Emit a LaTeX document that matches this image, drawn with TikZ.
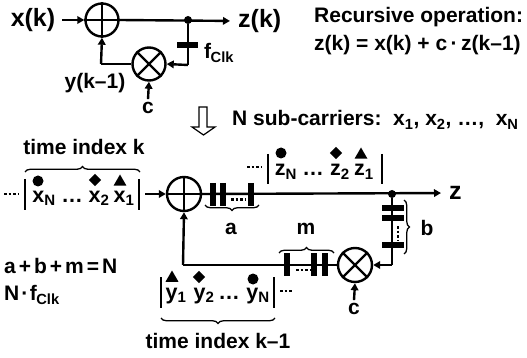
\documentclass[tikz,border=0pt]{standalone}
\usepackage{fontspec}
\setmainfont{Liberation Sans}[BoldFont={Liberation Sans Bold}]
\usetikzlibrary{arrows.meta,decorations.pathreplacing,shapes.geometric}
\tikzset{
 wire/.style={line width=2.4pt,-{Triangle[length=7pt,width=7.5pt]}},
 plain/.style={line width=2.4pt},
 op/.style={circle,draw,line width=2.4pt,minimum size=33pt,inner sep=0pt},
 plate/.style={line width=6.5pt},
 seqbar/.style={line width=1.8pt},
 dotsl/.style={line width=2.8pt,dash pattern=on 2.6pt off 2pt},
 hbrace/.style={line width=1.3pt,decorate,decoration={brace,amplitude=5.5pt}},
 big/.style={font=\bfseries\fontsize{25}{27}\selectfont,inner sep=0pt},
 mid/.style={font=\bfseries\fontsize{21}{23}\selectfont,inner sep=0pt},
 seq/.style={font=\bfseries\fontsize{21.5}{24}\selectfont,inner sep=0pt},
 mk/.style={fill=black,inner sep=0pt},
 mkc/.style={mk,circle,minimum size=11pt},
 mkd/.style={mk,diamond,minimum size=12.5pt},
 mkt/.style={mk,regular polygon,regular polygon sides=3,minimum size=15pt},
 dot/.style={circle,fill=black,inner sep=0pt,minimum size=8pt},
}
\newcommand{\opplus}[1]{\draw[line width=2.4pt] (#1.north) -- (#1.south) (#1.west) -- (#1.east);}
\newcommand{\optimes}[1]{\draw[line width=2.4pt] (#1.45) -- (#1.225) (#1.135) -- (#1.315);}
\begin{document}
\begin{tikzpicture}[x=1pt,y=-1pt]
\useasboundingbox (0,0) rectangle (527,358);
% --- top loop
\node[big,anchor=center] (xk) at (33,20) {x(k)};
\node[op] (p1) at (102,20) {}; \opplus{p1}
\node[dot] (d1) at (188,20) {};
\node[big,anchor=west] (zk) at (238,21) {z(k)};
\node[op] (m1) at (149,64) {}; \optimes{m1}
\coordinate (c1) at (188,65);
\coordinate (c2) at (101,64);
\node[mid,anchor=center] (cc1) at (148,108) {c};
\node[mid,anchor=center] (yk) at (95,83) {y(k–1)};
\draw[wire] (xk.east) ++(7,0) -- (p1.west);
\draw[wire,shorten >=8pt] (p1.east) -- (zk.west);
\draw[plain] (d1) -- (c1);
\draw[wire] (c1) -- (m1.east);
\draw[plain] (m1.west) -- (c2);
\draw[wire] (c2) -- (p1.south);
\draw[wire] (cc1.north) ++(0,-3) -- (m1.south);
\draw[plate,line width=5.5pt] (177,45) -- (198,45);
\node[mid,anchor=west] (fclk) at (204,53) {f\textsubscript{\kern-.5pt Clk}};
% --- text top-right
\node[mid,anchor=west] (rec) at (314,17) {Recursive operation:};
\node[mid,anchor=west] (eq) at (314,45) {z(k) = x(k) + c\,·\,z(k–1)};
\node[mid,anchor=west] (nsc) at (232,120) {N sub-carriers:\ \ x\textsubscript{1}, x\textsubscript{2}, …, \ x\textsubscript{N}};
\draw[line width=1.2pt,line join=miter,fill=white] (199,107) -- (207,107) -- (207,127) -- (215,127) -- (203.5,135) -- (192,127) -- (199,127) -- cycle;
% --- lower loop
\node[op,minimum size=34pt] (p2) at (184,194) {}; \opplus{p2}
\node[dot] (d2) at (392,194) {};
\node[big,anchor=west] (zz) at (449,193) {z};
\node[op,minimum size=34pt] (m2) at (355,265) {}; \optimes{m2}
\coordinate (c3) at (392,265);
\coordinate (c4) at (183,265);
\node[mid,anchor=center] (cc2) at (354,309) {c};
\draw[wire,shorten >=8pt] (p2.east) -- (zz.west);
\draw[plain] (d2) -- (c3);
\draw[wire] (c3) -- (m2.east);
\draw[plain] (m2.west) -- (c4);
\draw[wire] (c4) -- (p2.south);
\draw[wire] (cc2.north) ++(0,-3) -- (m2.south);
% registers a
\foreach \x in {213,223,251} \draw[plate] (\x,183) -- (\x,206);
\draw[dotsl] (231,199.5) -- (245,199.5);
\draw[hbrace,decoration={mirror}] (205,205) -- (259,205);
\node[mid,anchor=center] (la) at (231,229) {a};
% registers m
\foreach \x in {287,314,325} \draw[plate] (\x,253) -- (\x,276);
\draw[dotsl] (296,270) -- (310,270);
\draw[hbrace] (279,253) -- (334,253);
\node[mid,anchor=center] (lm) at (306,229) {m};
% registers b
\foreach \y in {208,218,245} \draw[plate,line width=5.5pt] (382,\y) -- (404,\y);
\draw[dotsl] (398,226) -- (398,240);
\draw[hbrace] (404,200) -- (404,254);
\node[mid,anchor=center] (lb) at (427,228) {b};
% x sequence
\draw[dotsl] (4,194) -- (18,194);
\draw[seqbar] (25,179) -- (25,210) (139,179) -- (139,210);
\node[seq,anchor=base] (xn) at (44,202) {x\textsubscript{N}};
\node[seq,anchor=base] (xd) at (72,202) {…};
\node[seq,anchor=base] (x2) at (99,202) {x\textsubscript{2}};
\node[seq,anchor=base] (x1) at (124,202) {x\textsubscript{1}};
\node[mkc] at (38,181) {}; \node[mkd] at (95,180) {}; \node[mkt] at (120,182) {};
\draw[wire] (145,194) -- (p2.west);
\draw[hbrace] (25,172) -- (140,172);
\node[mid,anchor=center] (ti1) at (84,147) {time index k};
% z sequence
\draw[dotsl] (247,167) -- (261,167);
\draw[seqbar] (268,154) -- (268,184) (382,154) -- (382,184);
\node[seq,anchor=base] (zn) at (286,176) {z\textsubscript{N}};
\node[seq,anchor=base] (zd) at (313,176) {…};
\node[seq,anchor=base] (z2) at (340,176) {z\textsubscript{2}};
\node[seq,anchor=base] (z1) at (364,176) {z\textsubscript{1}};
\node[mkc] at (281,153) {}; \node[mkd] at (336,153) {}; \node[mkt] at (361,155) {};
% y sequence
\draw[seqbar] (161,277) -- (161,308) (274,277) -- (274,308);
\node[seq,anchor=base] (y1) at (176,299) {y\textsubscript{1}};
\node[seq,anchor=base] (y2) at (204,299) {y\textsubscript{2}};
\node[seq,anchor=base] (yd) at (229,299) {…};
\node[seq,anchor=base] (yn) at (258,299) {y\textsubscript{N}};
\node[mkt] at (172,278) {}; \node[mkd] at (199,277) {}; \node[mkc] at (253,279) {};
\draw[dotsl] (280,291) -- (293,291);
\draw[hbrace,decoration={mirror}] (161,318) -- (275,318);
\node[mid,anchor=center] (ti2) at (218,341) {time index k–1};
% equations
\node[mid,anchor=west] (e1) at (4,266) {a\kern3pt+\kern3pt b\kern3pt+\kern3pt m\kern3pt=\kern3pt N};
\node[mid,anchor=west] (e2) at (4,295) {N\kern2pt·\kern1.5pt f\textsubscript{\kern-.5pt Clk}};
\end{tikzpicture}
\end{document}
